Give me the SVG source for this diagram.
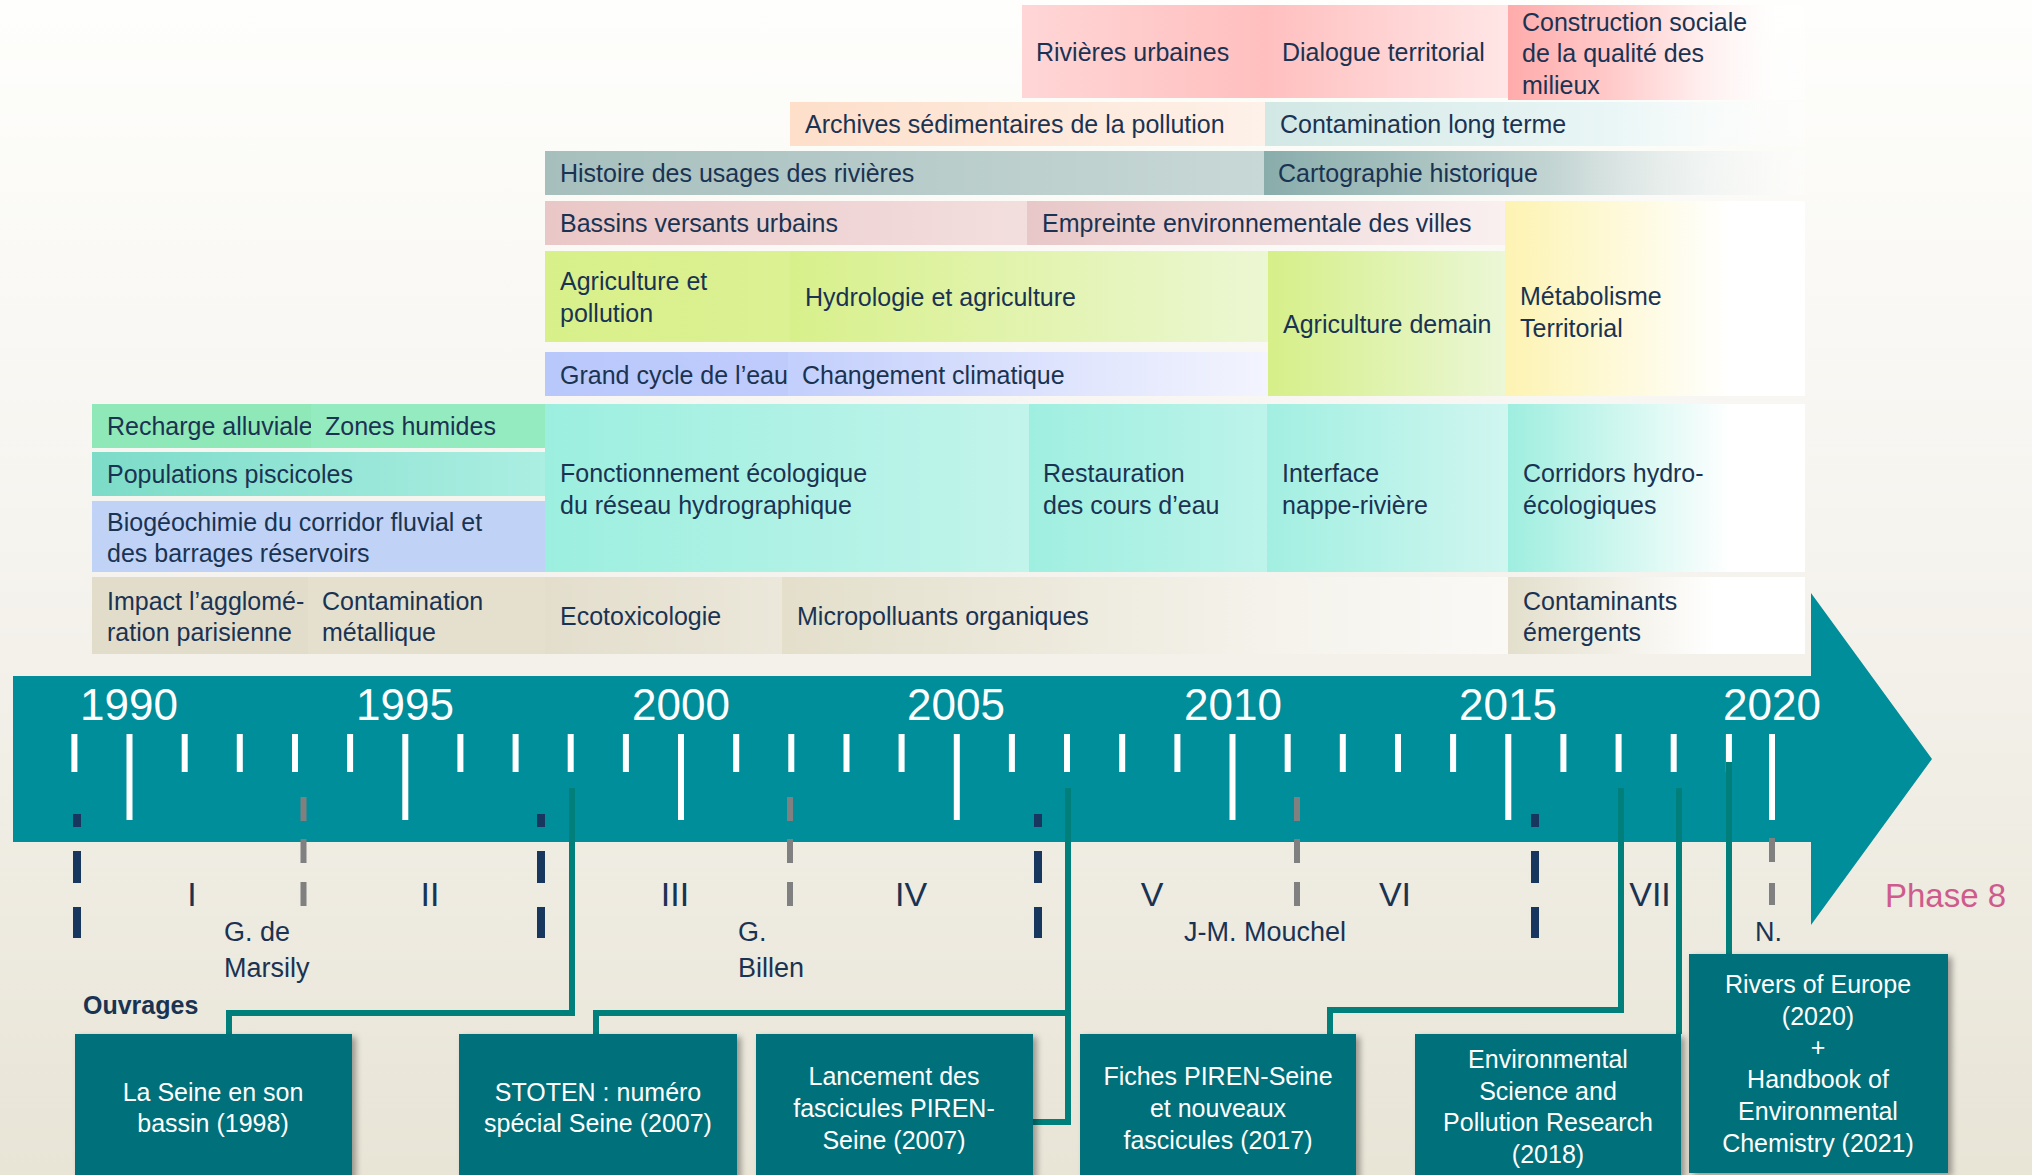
<svg xmlns="http://www.w3.org/2000/svg" width="2032" height="1175" viewBox="0 0 2032 1175">
<style>
.t{font-family:"Liberation Sans",Arial,sans-serif;font-size:25px;fill:#1a3352}
.w{fill:#fff;text-anchor:middle}
.yr{font-size:44px;fill:#fff;text-anchor:middle}
.rn{font-size:34px;text-anchor:middle}
.nm{font-size:27px}
.tk{stroke:#fff;stroke-width:6;fill:none}
.sep{stroke:#17375e;stroke-width:8;fill:none}
.sub{stroke:#808080;stroke-width:6;fill:none}
.con{fill:none;stroke:#007f7b;stroke-width:6}
.pub{fill:#00707a;filter:url(#sh)}
</style>
<defs>
<linearGradient id="bg" x1="0" y1="0" x2="0" y2="1"><stop offset="0" stop-color="#fefefc"/><stop offset="0.45" stop-color="#f6f4ef"/><stop offset="1" stop-color="#e8e4d6"/></linearGradient>
<linearGradient id="gPink1"><stop offset="0" stop-color="#ffd6d6"/><stop offset="0.5" stop-color="#ffbfbf"/><stop offset="1" stop-color="#ffe6e6"/></linearGradient>
<linearGradient id="gPink2"><stop offset="0" stop-color="#ffabab"/><stop offset="0.35" stop-color="#ffcaca"/><stop offset="0.65" stop-color="#ffeeee"/><stop offset="0.9" stop-color="#ffffff" stop-opacity="0.7"/><stop offset="1" stop-color="#ffffff" stop-opacity="0.5"/></linearGradient>
<linearGradient id="gArch"><stop offset="0" stop-color="#fddfca"/><stop offset="1" stop-color="#fdf1e9"/></linearGradient>
<linearGradient id="gCont"><stop offset="0" stop-color="#d2e8e5"/><stop offset="0.65" stop-color="#eaf6f6"/><stop offset="1" stop-color="#ffffff" stop-opacity="0.3"/></linearGradient>
<linearGradient id="gHist"><stop offset="0" stop-color="#a6bfbd"/><stop offset="1" stop-color="#c8d8d6"/></linearGradient>
<linearGradient id="gCarto"><stop offset="0" stop-color="#89adab"/><stop offset="0.55" stop-color="#c5d6d4"/><stop offset="1" stop-color="#ffffff" stop-opacity="0.2"/></linearGradient>
<linearGradient id="gBass"><stop offset="0" stop-color="#eac7c7"/><stop offset="1" stop-color="#f3dede"/></linearGradient>
<linearGradient id="gEmp"><stop offset="0" stop-color="#e8c7c8"/><stop offset="1" stop-color="#faf0f0"/></linearGradient>
<linearGradient id="gAgri"><stop offset="0" stop-color="#d8f08a"/><stop offset="1" stop-color="#dcf193"/></linearGradient>
<linearGradient id="gHydro"><stop offset="0" stop-color="#d8f08b"/><stop offset="1" stop-color="#ecf7d3"/></linearGradient>
<linearGradient id="gAgDem"><stop offset="0" stop-color="#d6ef88"/><stop offset="1" stop-color="#ebf7d6"/></linearGradient>
<linearGradient id="gMeta"><stop offset="0" stop-color="#fdf3b2"/><stop offset="0.75" stop-color="#ffffff"/><stop offset="1" stop-color="#ffffff"/></linearGradient>
<linearGradient id="gGrand"><stop offset="0" stop-color="#b9c8fb"/><stop offset="1" stop-color="#bfcbfb"/></linearGradient>
<linearGradient id="gChang"><stop offset="0" stop-color="#c3cffc"/><stop offset="1" stop-color="#f3f4fe"/></linearGradient>
<linearGradient id="gPop"><stop offset="0" stop-color="#7cdcc8"/><stop offset="1" stop-color="#abeee2"/></linearGradient>
<linearGradient id="gFonc"><stop offset="0" stop-color="#9cefdf"/><stop offset="1" stop-color="#c2f4eb"/></linearGradient>
<linearGradient id="gRest"><stop offset="0" stop-color="#9fefe0"/><stop offset="1" stop-color="#bdf3ea"/></linearGradient>
<linearGradient id="gInt"><stop offset="0" stop-color="#a2efe1"/><stop offset="1" stop-color="#d0f6f0"/></linearGradient>
<linearGradient id="gCorr"><stop offset="0" stop-color="#9eeedf"/><stop offset="0.75" stop-color="#ffffff"/><stop offset="1" stop-color="#ffffff"/></linearGradient>
<linearGradient id="gEco"><stop offset="0" stop-color="#e3decc"/><stop offset="1" stop-color="#ebe7da"/></linearGradient>
<linearGradient id="gMicro"><stop offset="0" stop-color="#e3dfcb"/><stop offset="0.7" stop-color="#f5f3ec"/><stop offset="1" stop-color="#faf9f6"/></linearGradient>
<linearGradient id="gEmer"><stop offset="0" stop-color="#e3dfcc"/><stop offset="0.7" stop-color="#ffffff"/><stop offset="1" stop-color="#ffffff"/></linearGradient>
<filter id="sh" x="-10%" y="-10%" width="130%" height="130%"><feDropShadow dx="4" dy="3" stdDeviation="3" flood-color="#000" flood-opacity="0.35"/></filter>
</defs>

<rect x="0" y="0" width="2032" height="1175" fill="url(#bg)"/>

<!-- Themes -->
<g id="riv-urbaines"><rect x="1022" y="5" width="486" height="93" fill="url(#gPink1)"/><text class="t" x="1036" y="61">Rivières urbaines</text><text class="t" x="1282" y="61">Dialogue territorial</text></g>
<g id="construction-sociale"><rect x="1508" y="5" width="297" height="95" fill="url(#gPink2)"/><text class="t" x="1522" y="30.5">Construction sociale</text><text class="t" x="1522" y="62">de la qualité des</text><text class="t" x="1522" y="94">milieux</text></g>
<g id="archives"><rect x="790" y="102" width="475" height="44" fill="url(#gArch)"/><text class="t" x="805" y="133">Archives sédimentaires de la pollution</text></g>
<g id="contamination-lt"><rect x="1265" y="102" width="540" height="44" fill="url(#gCont)"/><text class="t" x="1280" y="133">Contamination long terme</text></g>
<g id="histoire"><rect x="545" y="151" width="720" height="44" fill="url(#gHist)"/><text class="t" x="560" y="182">Histoire des usages des rivières</text></g>
<g id="cartographie"><rect x="1264" y="151" width="541" height="44" fill="url(#gCarto)"/><text class="t" x="1278" y="182">Cartographie historique</text></g>
<g id="bassins"><rect x="545" y="201" width="482" height="44" fill="url(#gBass)"/><text class="t" x="560" y="232">Bassins versants urbains</text></g>
<g id="empreinte"><rect x="1027" y="201" width="478" height="44" fill="url(#gEmp)"/><text class="t" x="1042" y="232">Empreinte environnementale des villes</text></g>
<g id="metabolisme"><rect x="1505" y="201" width="300" height="195" fill="url(#gMeta)"/><text class="t" x="1520" y="305">Métabolisme</text><text class="t" x="1520" y="337">Territorial</text></g>
<g id="agri-pollution"><rect x="545" y="251" width="245" height="91" fill="url(#gAgri)"/><text class="t" x="560" y="290">Agriculture et</text><text class="t" x="560" y="322">pollution</text></g>
<g id="hydrologie"><rect x="790" y="251" width="478" height="91" fill="url(#gHydro)"/><text class="t" x="805" y="306">Hydrologie et agriculture</text></g>
<g id="agri-demain"><rect x="1268" y="251" width="237" height="145" fill="url(#gAgDem)"/><text class="t" x="1283" y="333">Agriculture demain</text></g>
<g id="grand-cycle"><rect x="545" y="352" width="243" height="44" fill="url(#gGrand)"/><text class="t" x="560" y="384">Grand cycle de l’eau</text></g>
<g id="changement"><rect x="788" y="352" width="480" height="44" fill="url(#gChang)"/><text class="t" x="802" y="384">Changement climatique</text></g>
<g id="recharge"><rect x="92" y="404" width="219" height="44" fill="#8fe8b8"/><text class="t" x="107" y="435">Recharge alluviale</text></g>
<g id="zones-humides"><rect x="311" y="404" width="234" height="44" fill="#95ebc0"/><text class="t" x="325" y="435">Zones humides</text></g>
<g id="populations"><rect x="92" y="452" width="453" height="44" fill="url(#gPop)"/><text class="t" x="107" y="483">Populations piscicoles</text></g>
<g id="biogeochimie"><rect x="92" y="501" width="453" height="71" fill="#c0d3f7"/><text class="t" x="107" y="531">Biogéochimie du corridor fluvial et</text><text class="t" x="107" y="562">des barrages réservoirs</text></g>
<g id="fonctionnement"><rect x="545" y="404" width="484" height="168" fill="url(#gFonc)"/><text class="t" x="560" y="482">Fonctionnement écologique</text><text class="t" x="560" y="514">du réseau hydrographique</text></g>
<g id="restauration"><rect x="1029" y="404" width="238" height="168" fill="url(#gRest)"/><text class="t" x="1043" y="482">Restauration</text><text class="t" x="1043" y="514">des cours d’eau</text></g>
<g id="interface"><rect x="1267" y="404" width="241" height="168" fill="url(#gInt)"/><text class="t" x="1282" y="482">Interface</text><text class="t" x="1282" y="514">nappe-rivière</text></g>
<g id="corridors"><rect x="1508" y="404" width="297" height="168" fill="url(#gCorr)"/><text class="t" x="1523" y="482">Corridors hydro-</text><text class="t" x="1523" y="514">écologiques</text></g>
<g id="impact"><rect x="92" y="577" width="216" height="77" fill="#e2dccb"/><text class="t" x="107" y="610">Impact l’agglomé-</text><text class="t" x="107" y="641">ration parisienne</text></g>
<g id="contamination-met"><rect x="308" y="577" width="237" height="77" fill="#e5e0ce"/><text class="t" x="322" y="610">Contamination</text><text class="t" x="322" y="641">métallique</text></g>
<g id="ecotoxicologie"><rect x="545" y="577" width="237" height="77" fill="url(#gEco)"/><text class="t" x="560" y="625">Ecotoxicologie</text></g>
<g id="micropolluants"><rect x="782" y="577" width="726" height="77" fill="url(#gMicro)"/><text class="t" x="797" y="625">Micropolluants organiques</text></g>
<g id="emergents"><rect x="1508" y="577" width="297" height="77" fill="url(#gEmer)"/><text class="t" x="1523" y="610">Contaminants</text><text class="t" x="1523" y="641">émergents</text></g>

<!-- Timeline arrow -->
<g id="timeline">
<path d="M13 676H1811V593L1932 759L1811 925V842H13Z" fill="#008e9b"/>
<path class="tk" d="M74.4 734v38M184.7 734v38M239.8 734v38M295 734v38M350.1 734v38M460.4 734v38M515.6 734v38M570.7 734v38M625.9 734v38M736.2 734v38M791.3 734v38M846.5 734v38M901.6 734v38M1011.9 734v38M1067 734v38M1122.2 734v38M1177.4 734v38M1287.7 734v38M1342.8 734v38M1398 734v38M1453.1 734v38M1563.4 734v38M1618.6 734v38M1673.7 734v38M1728.9 734v38"/>
<path class="tk" d="M129.5 734v86M405.3 734v86M681 734v86M956.8 734v86M1232.5 734v86M1508.3 734v86M1772 734v86"/>
<g class="t yr"><text x="129" y="720">1990</text><text x="405" y="720">1995</text><text x="681" y="720">2000</text><text x="956" y="720">2005</text><text x="1233" y="720">2010</text><text x="1508" y="720">2015</text><text x="1772" y="720">2020</text></g>
<path class="sep" d="M77 814v13M77 851v32M77 907v31M541 814v13M541 851v32M541 907v31M1038 814v13M1038 851v32M1038 907v31M1535 814v13M1535 851v32M1535 907v31"/>
<path class="sub" d="M303.5 797v24M303.5 839v24M303.5 882v24M790 797v24M790 839v24M790 882v24M1297 797v24M1297 839v24M1297 882v24M1772 838v24M1772 883v22"/>
<g class="t rn"><text x="192" y="906">I</text><text x="430" y="906">II</text><text x="675" y="906">III</text><text x="911" y="906">IV</text><text x="1152" y="906">V</text><text x="1395" y="906">VI</text><text x="1650" y="906">VII</text></g>
<g class="t nm"><text x="224" y="941">G. de</text><text x="224" y="977">Marsily</text><text x="738" y="941">G.</text><text x="738" y="977">Billen</text><text x="1184" y="941">J-M. Mouchel</text><text x="1755" y="941">N.</text></g>
<text class="t" x="1885" y="907" style="font-size:33px;fill:#cf5b8c">Phase 8</text>
<text class="t" x="83" y="1014" style="font-weight:bold">Ouvrages</text>
</g>

<!-- Connectors -->
<g id="connectors">
<path class="con" d="M229 1034V1013H572V788"/>
<path class="con" d="M596 1034V1013H1068"/>
<path class="con" d="M1068 788V1122H1033"/>
<path class="con" d="M1330 1034V1010H1621V788"/>
<path class="con" d="M1679 788V1034"/>
<path class="con" d="M1729 762V954"/>
</g>

<!-- Publications -->
<g id="pub-seine-bassin"><rect class="pub" x="75" y="1034" width="277" height="150"/><g class="t w"><text x="213" y="1101">La Seine en son</text><text x="213" y="1132">bassin (1998)</text></g></g>
<g id="pub-stoten"><rect class="pub" x="459" y="1034" width="278" height="150"/><g class="t w"><text x="598" y="1101">STOTEN : numéro</text><text x="598" y="1132">spécial Seine (2007)</text></g></g>
<g id="pub-fascicules"><rect class="pub" x="756" y="1034" width="277" height="150"/><g class="t w"><text x="894" y="1085">Lancement des</text><text x="894" y="1117">fascicules PIREN-</text><text x="894" y="1149">Seine (2007)</text></g></g>
<g id="pub-fiches"><rect class="pub" x="1080" y="1034" width="276" height="150"/><g class="t w"><text x="1218" y="1085">Fiches PIREN-Seine</text><text x="1218" y="1117">et nouveaux</text><text x="1218" y="1149">fascicules (2017)</text></g></g>
<g id="pub-espr"><rect class="pub" x="1415" y="1034" width="266" height="150"/><g class="t w"><text x="1548" y="1068">Environmental</text><text x="1548" y="1100">Science and</text><text x="1548" y="1131">Pollution Research</text><text x="1548" y="1163">(2018)</text></g></g>
<g id="pub-rivers"><rect class="pub" x="1689" y="954" width="259" height="219"/><g class="t w"><text x="1818" y="993">Rivers of Europe</text><text x="1818" y="1025">(2020)</text><text x="1818" y="1056">+</text><text x="1818" y="1088">Handbook of</text><text x="1818" y="1120">Environmental</text><text x="1818" y="1152">Chemistry (2021)</text></g></g>
</svg>
